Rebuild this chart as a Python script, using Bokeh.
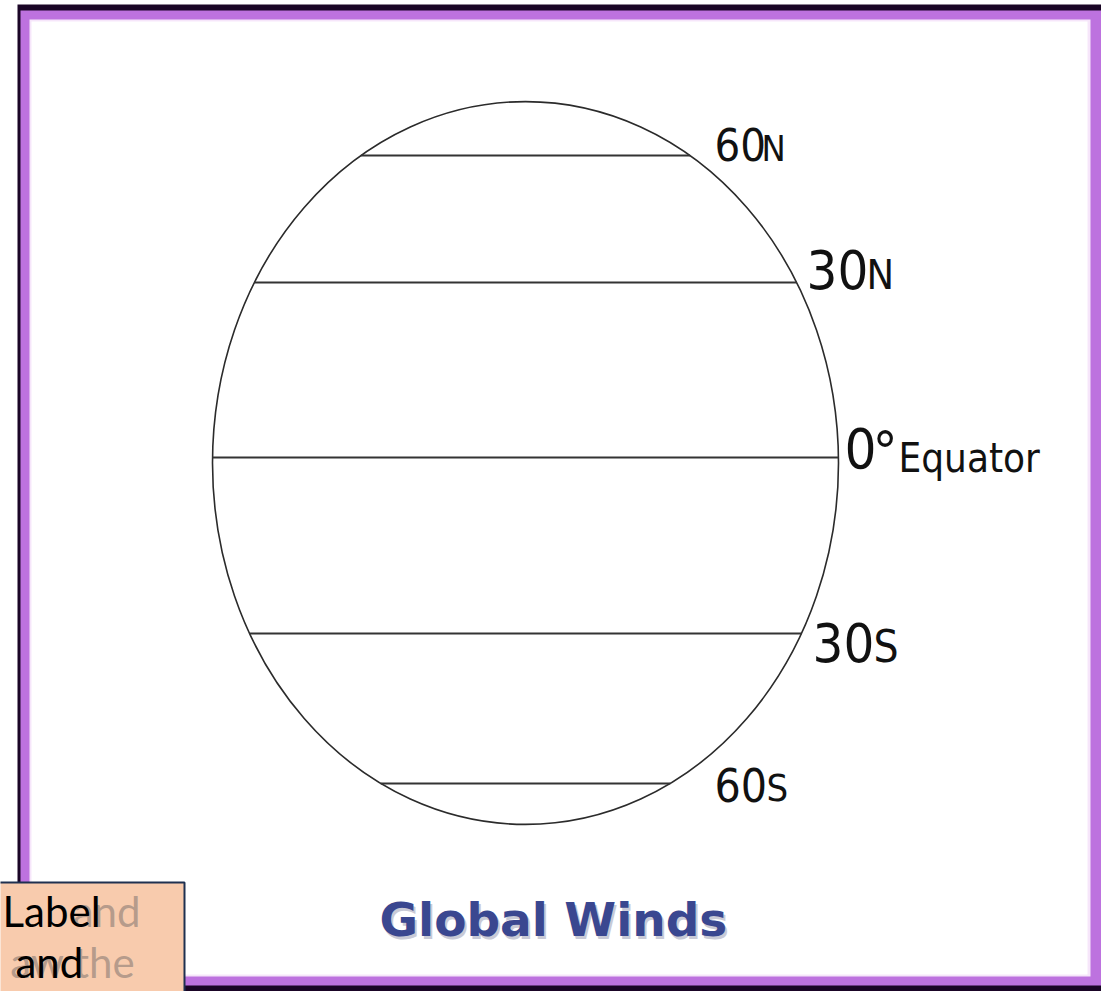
import numpy as np
from bokeh.plotting import figure
from bokeh.models import Range1d
from bokeh.core.properties import value
from bokeh.embed import file_html
from bokeh.resources import INLINE

# ---- diagram data (reference pixel space: x to the right, y downward) ----
globe_center = (525.0, 462.5)
globe_radii = (313.0, 361.5)

lat_names = ["60N", "30N", "Equator", "30S", "60S"]
lat_y = [155, 282, 457, 633, 783]

# label pieces: (main text, small suffix)
lab_main = ["60", "30", "0", "30", "60"]
lab_suffix = ["N", "N", "", "S", "S"]
lab_x = [714, 806, 844, 812, 714]
lab_base = [162, 290, 469, 663, 802]
lab_main_size = [45, 54, 56, 54, 46]
lab_suf_size = [36, 41, 0, 44, 38]
lab_suf_dx = [47, 60, 0, 61, 52]

title_text = "Global Winds"
box_lines = ["Label", "and"]
ghost_lines = ["and", "aw the"]

FONT = "DejaVu Sans Condensed"
SHIFT = 0.39  # baseline correction (fraction of font size)


def base(y, size):
    return y - SHIFT * size


p = figure(width=1101, height=991, x_range=Range1d(0, 1101), y_range=Range1d(991, 0),
           output_backend="svg", toolbar_location=None,
           x_axis_type=None, y_axis_type=None, min_border=0)
p.outline_line_color = None
p.background_fill_color = "white"
p.border_fill_color = "white"
p.xgrid.visible = False
p.ygrid.visible = False

# ---- frame ----
p.quad(left=[17], right=[1120], top=[4], bottom=[1000], fill_color="#1a0526", line_color=None)
p.quad(left=[20], right=[1110], top=[10], bottom=[985], fill_color="#bd72df", line_color=None)
p.quad(left=[29], right=[1090], top=[19], bottom=[976], fill_color="#f6e6fa", line_color=None)
p.quad(left=[31], right=[1087], top=[21], bottom=[974], fill_color="white", line_color=None)

# ---- globe ----
cx, cy = globe_center
ax, ay = globe_radii
p.ellipse(x=[cx], y=[cy], width=[2 * ax], height=[2 * ay],
          fill_color=None, line_color="#2b2b2b", line_width=1.6)

ly = np.array(lat_y, dtype=float)
half = ax * np.sqrt(np.clip(1 - ((ly - cy) / ay) ** 2, 0, 1))
p.segment(x0=cx - half, y0=ly, x1=cx + half, y1=ly, line_color="#333333", line_width=2)

# ---- latitude labels ----
p.text(x=lab_x, y=[base(b, s) for b, s in zip(lab_base, lab_main_size)], text=lab_main,
       text_font=value(FONT),
       text_font_size=[f"{s}px" for s in lab_main_size], text_color="#111111",
       text_baseline="alphabetic", text_align="left")
sx = [x + d for x, d, s in zip(lab_x, lab_suf_dx, lab_suffix) if s]
sy = [base(b, z) for b, z, s in zip(lab_base, lab_suf_size, lab_suffix) if s]
st = [s for s in lab_suffix if s]
ss = [f"{z}px" for z, s in zip(lab_suf_size, lab_suffix) if s]
p.text(x=sx, y=sy, text=st, text_font=value(FONT), text_font_size=ss,
       text_color="#111111", text_baseline="alphabetic", text_align="left")

# degree sign and "Equator"
p.text(x=[872], y=[base(473, 56)], text=["°"], text_font=value(FONT), text_font_size="56px",
       text_color="#111111", text_baseline="alphabetic")
p.text(x=[898], y=[base(473, 40)], text=[lat_names[2]], text_font=value(FONT),
       text_font_size="40px", text_color="#111111", text_baseline="alphabetic")

# ---- title ----
p.text(x=[381], y=[base(940, 47)], text=[title_text], text_font=value("DejaVu Sans"),
       text_font_size="47px", text_font_style="bold", text_color="#c9cad6",
       text_baseline="alphabetic")
p.text(x=[379], y=[base(937, 47)], text=[title_text], text_font=value("DejaVu Sans"),
       text_font_size="47px", text_font_style="bold", text_color="#3a4790",
       text_baseline="alphabetic")

# ---- label box ----
p.quad(left=[-5], right=[184], top=[882], bottom=[1000], fill_color="#f8cbad",
       line_color="#1f3050", line_width=2)
p.text(x=[140, 135], y=[base(927, 42), base(978, 42)], text=ghost_lines,
       text_font=value("Lato"), text_font_size="42px", text_color="#a08c80",
       text_alpha=0.75, text_baseline="alphabetic", text_align="right")
p.text(x=[2, 15], y=[base(927, 42), base(978, 42)], text=box_lines,
       text_font=value("Lato"), text_font_size="42px", text_color="#000000",
       text_baseline="alphabetic", text_align="left")

open("out.html", "w").write(file_html(p, INLINE))
